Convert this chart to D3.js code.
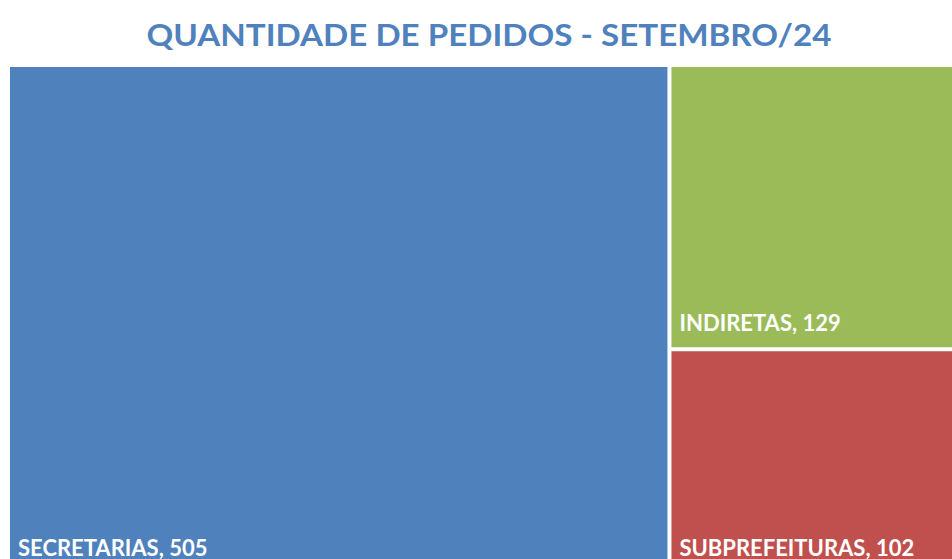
<!DOCTYPE html>
<html>
<head>
<meta charset="utf-8">
<script src="https://cdn.jsdelivr.net/npm/d3@7"></script>
<style>
  body { margin: 0; background: #fff; overflow: hidden; }
</style>
</head>
<body>
<div id="chart"></div>
<script>
const categories = ["SECRETARIAS", "INDIRETAS", "SUBPREFEITURAS"]
const values = [505, 129, 102]
const colors = ["#4F81BD", "#9BBB59", "#C0504D"]

const dimensions = {
    width: 952,
    height: 559,
    margin: { top: 67, right: -18, bottom: -13, left: 10 },
}
dimensions.boundedWidth = dimensions.width - dimensions.margin.left - dimensions.margin.right
dimensions.boundedHeight = dimensions.height - dimensions.margin.top - dimensions.margin.bottom

const wrapper = d3.select("#chart")
    .append("svg")
    .attr("width", dimensions.width)
    .attr("height", dimensions.height)
    .style("font-family", "Lato, 'Open Sans', sans-serif")

wrapper.append("text")
    .attr("x", 489)
    .attr("y", 46)
    .attr("text-anchor", "middle")
    .attr("fill", "#4F81BD")
    .style("font-size", "30px")
    .style("font-weight", "bold")
    .attr("textLength", 685)
    .attr("lengthAdjust", "spacingAndGlyphs")
    .text("QUANTIDADE DE PEDIDOS - SETEMBRO/24")

const bounds = wrapper.append("g")
    .attr("transform", `translate(${dimensions.margin.left},${dimensions.margin.top})`)

const root = d3.hierarchy({
        children: categories.map((c, i) => ({ name: c, value: values[i], color: colors[i] }))
    })
    .sum(d => d.value || 0)

d3.treemap()
    .tile(d3.treemapBinary)
    .size([dimensions.boundedWidth, dimensions.boundedHeight])
    .paddingInner(4)(root)

const leaves = bounds.selectAll("g")
    .data(root.leaves())
    .join("g")
    .attr("transform", d => `translate(${d.x0},${d.y0})`)

leaves.append("rect")
    .attr("width", d => d.x1 - d.x0)
    .attr("height", d => d.y1 - d.y0)
    .attr("fill", d => d.data.color)

leaves.append("text")
    .attr("x", 8)
    .attr("y", d => d.y1 - d.y0 - 16)
    .attr("fill", "#fff")
    .style("font-size", "22px")
    .style("font-weight", "bold")
    .text(d => `${d.data.name}, ${d.data.value}`)
</script>
</body>
</html>
